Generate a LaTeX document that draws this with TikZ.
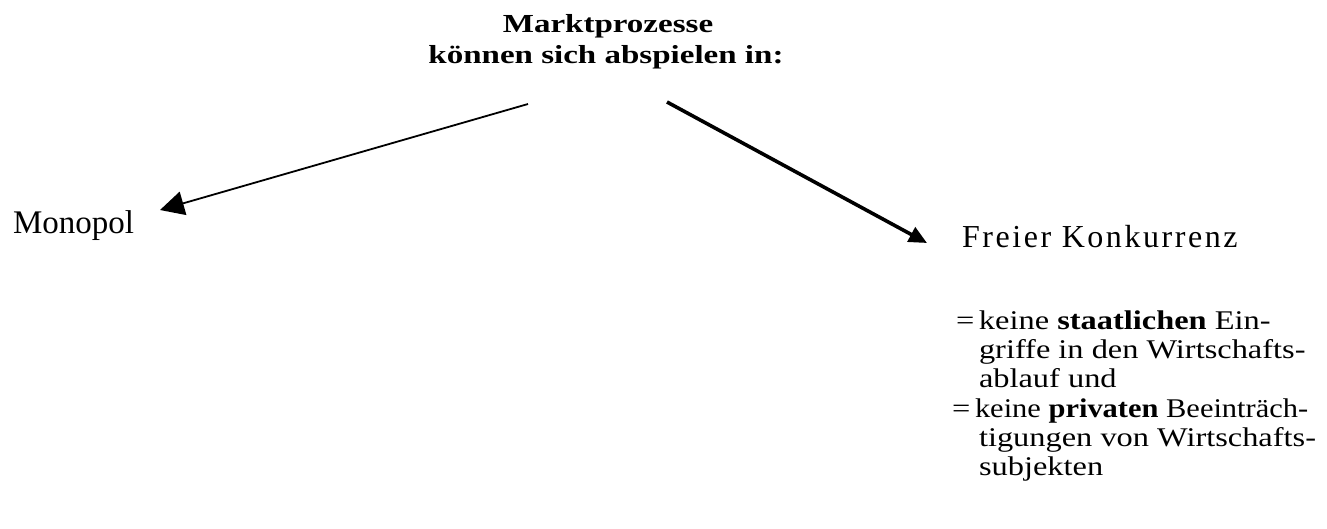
\documentclass[tikz,border=0pt]{standalone}
\usepackage{fontspec}
\setmainfont{Liberation Serif}
\newfontfamily\spacedfont{Liberation Serif}[LetterSpace=8]
\newfontfamily\blockfont{Liberation Serif}[FakeStretch=1.2]
\newfontfamily\titlefont{Liberation Serif}[FakeStretch=1.27]
\usetikzlibrary{arrows.meta}
\begin{document}
\begin{tikzpicture}[x=1pt,y=-1pt,
  txt/.style={inner sep=0pt,outer sep=0pt,font=\fontsize{33}{30}\selectfont},
  blk/.style={inner sep=0pt,outer sep=0pt,anchor=base west,font=\blockfont\fontsize{27}{29}\selectfont},
  ttl/.style={inner sep=0pt,outer sep=0pt,anchor=base,font=\titlefont\fontsize{26}{31}\selectfont\bfseries},
  thinarrow/.style={line width=1.8pt,-{Triangle[length=24pt,width=24pt]}},
  thickarrow/.style={line width=3.6pt,-{Triangle[length=18pt,width=16pt]}}]
\useasboundingbox (0,0) rectangle (1327,528);
\node[ttl] (t1) at (608,32) {Marktprozesse};
\node[ttl] (t2) at (606,63) {können sich abspielen in:};
\node[txt,anchor=base west] (mono) at (13,233) {Monopol};
\node[txt,anchor=base west,font=\spacedfont\fontsize{32}{30}\selectfont] (frei) at (962,247) {Freier Konkurrenz};
\node[blk] (l1) at (979,329) {\llap{=\,}keine \textbf{staatlichen} Ein-};
\node[blk] (l2) at (979,358) {griffe in den Wirtschafts-};
\node[blk] (l3) at (979,387) {ablauf und};
\node[blk] (l4) at (975,417) {\llap{=\,}\scalebox{0.94}[1]{keine \textbf{privaten} Beeinträch-}};
\node[blk] (l5) at (979,446) {tigungen von Wirtschafts-};
\node[blk] (l6) at (979,475) {subjekten};
\coordinate (ls) at (528,104);
\coordinate (lt) at (160,210);
\coordinate (rs) at (667,102);
\coordinate (rt) at (927,243);
\draw[thinarrow] (ls) -- (lt);
\draw[thickarrow] (rs) -- (rt);
\end{tikzpicture}
\end{document}
